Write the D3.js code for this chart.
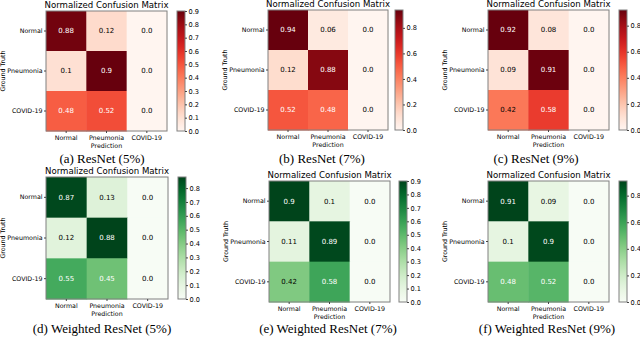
<!DOCTYPE html>
<html>
<head>
<meta charset="utf-8">
<script src="https://cdn.jsdelivr.net/npm/d3@7"></script>
<style>
  body { margin: 0; background: #fff; }
  svg { display: block; }
</style>
</head>
<body>
<div id="chart"></div>
<script>
// labels
var truthLabels = ["Normal", "Pneumonia", "COVID-19"];
var predLabels = ["Normal", "Pneumonia", "COVID-19"];
var captions = ["(a) ResNet (5%)", "(b) ResNet (7%)", "(c) ResNet (9%)",
                "(d) Weighted ResNet (5%)", "(e) Weighted ResNet (7%)", "(f) Weighted ResNet (9%)"];

// normalized confusion matrices (rows = ground truth, cols = prediction)
var resnet5  = [[0.88, 0.12, 0.0], [0.1, 0.9, 0.0], [0.48, 0.52, 0.0]];
var resnet7  = [[0.94, 0.06, 0.0], [0.12, 0.88, 0.0], [0.52, 0.48, 0.0]];
var resnet9  = [[0.92, 0.08, 0.0], [0.09, 0.91, 0.0], [0.42, 0.58, 0.0]];
var wresnet5 = [[0.87, 0.13, 0.0], [0.12, 0.88, 0.0], [0.55, 0.45, 0.0]];
var wresnet7 = [[0.9, 0.1, 0.0], [0.11, 0.89, 0.0], [0.42, 0.58, 0.0]];
var wresnet9 = [[0.91, 0.09, 0.0], [0.1, 0.9, 0.0], [0.48, 0.52, 0.0]];

// colorbar tick labels
var ticksStep1 = [0, 0.1, 0.2, 0.3, 0.4, 0.5, 0.6, 0.7, 0.8, 0.9];
var ticksStep1to8 = [0, 0.1, 0.2, 0.3, 0.4, 0.5, 0.6, 0.7, 0.8];
var ticksStep2 = [0, 0.2, 0.4, 0.6, 0.8];

var width = 640, height = 337;
var svg = d3.select("#chart").append("svg")
    .attr("width", width)
    .attr("height", height);

// layout for each panel
var panels = [
    {m: resnet5,  cmap: d3.interpolateReds,   ticks: ticksStep1,    x: 46,  y: 11,  w: 121, h: 120, cbx: 177, capx: 102, capy: 163},
    {m: resnet7,  cmap: d3.interpolateReds,   ticks: ticksStep2,    x: 268, y: 10,  w: 120, h: 120, cbx: 395, capx: 322, capy: 163},
    {m: resnet9,  cmap: d3.interpolateReds,   ticks: ticksStep2,    x: 488, y: 10,  w: 121, h: 120, cbx: 619, capx: 536, capy: 163},
    {m: wresnet5, cmap: d3.interpolateGreens, ticks: ticksStep1to8, x: 46,  y: 177, w: 122, h: 122, cbx: 178, capx: 102, capy: 333},
    {m: wresnet7, cmap: d3.interpolateGreens, ticks: ticksStep1,    x: 269, y: 181, w: 121, h: 121, cbx: 399, capx: 328, capy: 333},
    {m: wresnet9, cmap: d3.interpolateGreens, ticks: ticksStep2,    x: 488, y: 181, w: 121, h: 121, cbx: 619, capx: 547, capy: 333}
];

var labelFont = "DejaVu Sans, sans-serif";
var frameColor = "#808080";

panels.forEach(function (p, i) {
    var vmax = d3.max(p.m, function (row) { return d3.max(row); });
    var color = d3.scaleSequential(p.cmap).domain([0, vmax]);

    var g = svg.append("g")
        .attr("transform", "translate(" + p.x + "," + p.y + ")");

    var x = d3.scaleBand().domain(predLabels).range([0, p.w]);
    var y = d3.scaleBand().domain(truthLabels).range([0, p.h]);

    var cells = [];
    p.m.forEach(function (row, r) {
        row.forEach(function (v, c) {
            cells.push({truth: truthLabels[r], pred: predLabels[c], v: v});
        });
    });

    g.selectAll(".cell")
        .data(cells)
        .enter().append("rect")
        .attr("class", "cell")
        .attr("x", function (d) { return x(d.pred); })
        .attr("y", function (d) { return y(d.truth); })
        .attr("width", x.bandwidth() + 0.5)
        .attr("height", y.bandwidth() + 0.5)
        .style("fill", function (d) { return color(d.v); });

    g.selectAll(".val")
        .data(cells)
        .enter().append("text")
        .attr("class", "val")
        .attr("x", function (d) { return x(d.pred) + x.bandwidth() / 2; })
        .attr("y", function (d) { return y(d.truth) + y.bandwidth() / 2; })
        .attr("dy", "0.35em")
        .attr("text-anchor", "middle")
        .style("font-family", labelFont)
        .style("font-size", "7px")
        .style("fill", function (d) { return d.v > vmax / 2 ? "#fff" : "#000"; })
        .text(function (d) { return d.v === 0 ? "0.0" : String(d.v); });

    // frame
    g.append("rect")
        .attr("width", p.w)
        .attr("height", p.h)
        .style("fill", "none")
        .style("stroke", frameColor)
        .style("stroke-width", 1);

    var yAxis = g.append("g")
        .call(d3.axisLeft(y).tickSize(2).tickPadding(1.5));
    yAxis.select(".domain").remove();
    yAxis.selectAll("line").style("stroke", "#444");
    yAxis.selectAll("text")
        .style("font-family", labelFont)
        .style("font-size", "6.3px")
        .style("fill", "#000");

    var xAxis = g.append("g")
        .attr("transform", "translate(0," + p.h + ")")
        .call(d3.axisBottom(x).tickSize(2).tickPadding(2.5));
    xAxis.select(".domain").remove();
    xAxis.selectAll("line").style("stroke", "#444");
    xAxis.selectAll("text")
        .style("font-family", labelFont)
        .style("font-size", "6.3px")
        .style("fill", "#000");

    g.append("text")
        .attr("x", p.w / 2)
        .attr("y", p.h + 16.5)
        .attr("text-anchor", "middle")
        .style("font-family", labelFont)
        .style("font-size", "6.3px")
        .text("Prediction");

    g.append("text")
        .attr("transform", "translate(-41," + (p.h / 2) + ") rotate(-90)")
        .attr("text-anchor", "middle")
        .style("font-family", labelFont)
        .style("font-size", "6.3px")
        .text("Ground Truth");

    g.append("text")
        .attr("x", p.w / 2)
        .attr("y", -3)
        .attr("text-anchor", "middle")
        .style("font-family", labelFont)
        .style("font-size", "8.6px")
        .text("Normalized Confusion Matrix");

    // colorbar
    var gradId = "grad" + i;
    var grad = svg.append("defs").append("linearGradient")
        .attr("id", gradId)
        .attr("x1", 0).attr("y1", 1)
        .attr("x2", 0).attr("y2", 0);
    d3.range(0, 1.0001, 0.05).forEach(function (t) {
        grad.append("stop")
            .attr("offset", t)
            .attr("stop-color", p.cmap(t));
    });

    var cbW = 8;
    var cb = svg.append("g")
        .attr("transform", "translate(" + p.cbx + "," + p.y + ")");
    cb.append("rect")
        .attr("width", cbW)
        .attr("height", p.h)
        .style("fill", "url(#" + gradId + ")")
        .style("stroke", frameColor)
        .style("stroke-width", 1);

    var cbScale = d3.scaleLinear().domain([0, vmax]).range([p.h, 0]);
    var cbAxis = cb.append("g")
        .attr("transform", "translate(" + cbW + ",0)")
        .call(d3.axisRight(cbScale).tickValues(p.ticks)
            .tickFormat(d3.format(".1f")).tickSize(2).tickPadding(1.5));
    cbAxis.select(".domain").remove();
    cbAxis.selectAll("line").style("stroke", "#444");
    cbAxis.selectAll("text")
        .style("font-family", labelFont)
        .style("font-size", "6.6px")
        .style("fill", "#000");

    // caption
    svg.append("text")
        .attr("x", p.capx)
        .attr("y", p.capy)
        .attr("text-anchor", "middle")
        .style("font-family", "Liberation Serif, Times New Roman, serif")
        .style("font-size", "13px")
        .text(captions[i]);
});
</script>
</body>
</html>
